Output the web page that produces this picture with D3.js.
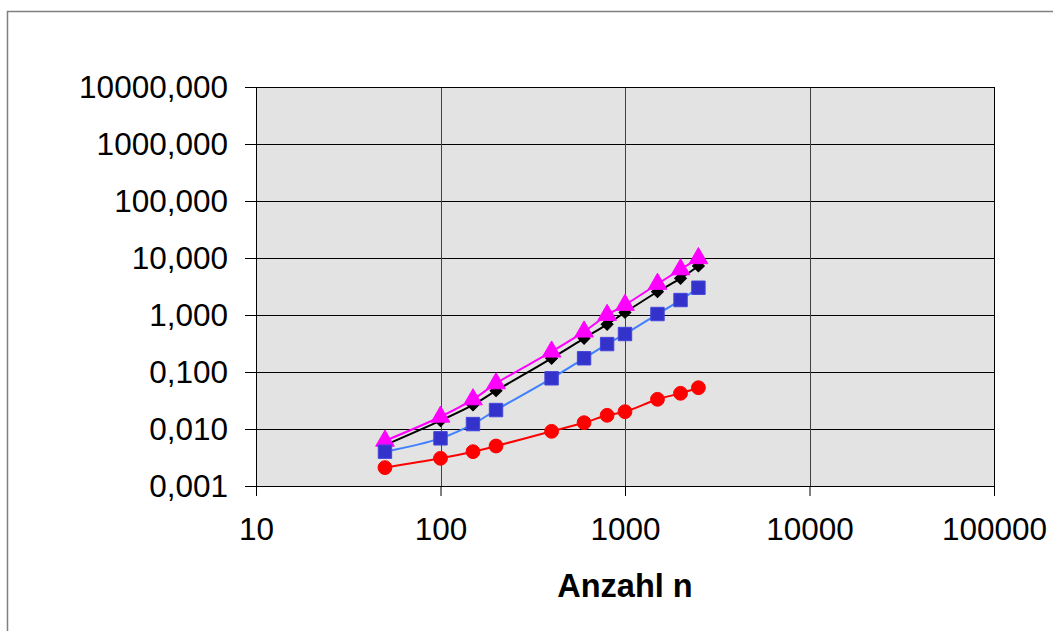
<!DOCTYPE html>
<html>
<head>
<meta charset="utf-8">
<script src="https://cdn.jsdelivr.net/npm/d3@7"></script>
<style>
  body { margin: 0; background: #fff; }
  text { font-family: "Liberation Sans", Arial, sans-serif; }
</style>
</head>
<body>
<div id="chart"></div>
<script>
// Anzahl n
var nValues = [50, 100, 150, 200, 400, 600, 800, 1000, 1500, 2000, 2500];
// series (Laufzeit)
var seriesBlack   = [0.0052, 0.014, 0.0264, 0.047, 0.174, 0.39, 0.687, 1.11, 2.56, 4.4, 7.24];
var seriesMagenta = [0.0062, 0.0164, 0.033, 0.063, 0.227, 0.51, 1.0, 1.5, 3.5, 6.3, 9.9];
var seriesBlue    = [0.0040, 0.00686, 0.0122, 0.0215, 0.0775, 0.174, 0.309, 0.464, 1.04, 1.83, 3.01];
var seriesRed     = [0.0021, 0.00306, 0.0040, 0.00503, 0.0091, 0.0129, 0.0174, 0.0201, 0.0332, 0.0423, 0.053];
var xTicks = [10, 100, 1000, 10000, 100000];
var yTicks = [0.001, 0.01, 0.1, 1, 10, 100, 1000, 10000];

var W = 1053, H = 631;
var margin = { top: 87, right: 59, bottom: 145, left: 256 };
var width = W - margin.left - margin.right;
var height = H - margin.top - margin.bottom;

var svg = d3.select("#chart").append("svg")
    .attr("width", W)
    .attr("height", H);

// outer chart frame
svg.append("rect")
    .attr("x", 7.5).attr("y", 11.5)
    .attr("width", W + 20).attr("height", H + 20)
    .attr("fill", "none")
    .attr("stroke", "#808080")
    .attr("stroke-width", 1.5);

var g = svg.append("g")
    .attr("transform", "translate(" + margin.left + "," + margin.top + ")");

var x = d3.scaleLog().domain([10, 100000]).range([0, width]);
var y = d3.scaleLog().domain([0.001, 10000]).range([height, 0]);

var de = d3.formatLocale({ decimal: ",", thousands: "", grouping: [3], currency: ["", "€"] });
var fmtY = de.format(".3f");

g.append("rect")
    .attr("width", width).attr("height", height)
    .attr("fill", "#e3e3e3");

// gridlines
g.selectAll(".hgrid").data(yTicks).enter().append("line")
    .attr("x1", 0).attr("x2", width)
    .attr("y1", function(d) { return Math.round(y(d)) + 0.5; })
    .attr("y2", function(d) { return Math.round(y(d)) + 0.5; })
    .attr("stroke", "#000").attr("stroke-width", 1);
g.selectAll(".vgrid").data(xTicks).enter().append("line")
    .attr("y1", 0).attr("y2", height)
    .attr("x1", function(d) { return Math.round(x(d)) + 0.5; })
    .attr("x2", function(d) { return Math.round(x(d)) + 0.5; })
    .attr("stroke", "#404040").attr("stroke-width", 1);

g.append("rect")
    .attr("x", 0.5).attr("y", 0.5)
    .attr("width", width).attr("height", height)
    .attr("fill", "none").attr("stroke", "#000");

// axes
var yAxis = d3.axisLeft(y).tickValues(yTicks).tickFormat(fmtY).tickSizeOuter(0).tickSize(11).tickPadding(17);
var xAxis = d3.axisBottom(x).tickValues(xTicks).tickFormat(d3.format("d")).tickSizeOuter(0).tickSize(10).tickPadding(22);

var ya = g.append("g").call(yAxis);
var xa = g.append("g").attr("transform", "translate(0," + height + ")").call(xAxis);
[ya, xa].forEach(function(a) {
  a.select(".domain").remove();
  a.selectAll("text").attr("font-size", 31.5).attr("fill", "#000")
    .style("font-family", "'Liberation Sans', Arial, sans-serif");
  a.selectAll("line").attr("stroke", "#000");
});

g.append("text")
    .attr("x", width / 2)
    .attr("y", height + 111)
    .attr("text-anchor", "middle")
    .attr("font-size", 32.5)
    .attr("font-weight", "bold")
    .text("Anzahl n");

var line = d3.line()
    .x(function(d) { return x(d[0]); })
    .y(function(d) { return y(d[1]); })
    .curve(d3.curveCatmullRom.alpha(0.5));

function pairs(vals) { return nValues.map(function(n, i) { return [n, vals[i]]; }); }

// rot = 45 turns the square into an excel-style diamond
var series = [
  { vals: seriesBlack,   line: "#000000", fill: "#000000", stroke: "#000000", sym: d3.symbolSquare,   size: 70,  rot: 45 },
  { vals: seriesMagenta, line: "#ff00ff", fill: "#ff00ff", stroke: "#ff00ff", sym: d3.symbolTriangle, size: 150, rot: 0 },
  { vals: seriesBlue,    line: "#4080ff", fill: "#3333cc", stroke: "#4444dd", sym: d3.symbolSquare,   size: 180, rot: 0 },
  { vals: seriesRed,     line: "#ff0000", fill: "#ff0000", stroke: "#ff0000", sym: d3.symbolCircle,   size: 150, rot: 0 }
];

series.forEach(function(s) {
  var data = pairs(s.vals);
  g.append("path").datum(data)
    .attr("d", line)
    .attr("fill", "none")
    .attr("stroke", s.line)
    .attr("stroke-width", 2);
  g.selectAll(null).data(data).enter().append("path")
    .attr("transform", function(d) { return "translate(" + x(d[0]) + "," + y(d[1]) + ") rotate(" + s.rot + ")"; })
    .attr("d", d3.symbol().type(s.sym).size(s.size))
    .attr("fill", s.fill)
    .attr("stroke", s.stroke)
    .attr("stroke-width", 1);
});
</script>
</body>
</html>
